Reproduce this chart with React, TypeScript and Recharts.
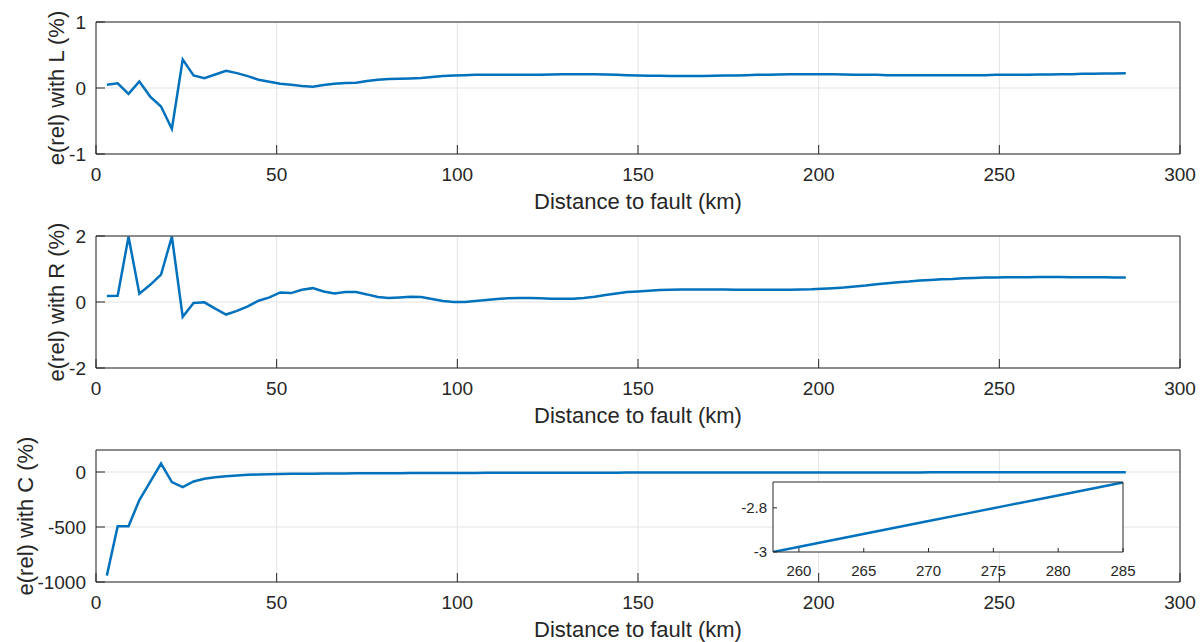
import React from 'react'
import { LineChart, Line, XAxis, YAxis, CartesianGrid } from 'recharts'

// distance to fault (km)
const distance = [
  3, 6, 9, 12, 15, 18, 21, 24, 27, 30,
  33, 36, 39, 42, 45, 48, 51, 54, 57, 60,
  63, 66, 69, 72, 75, 78, 81, 84, 87, 90,
  93, 96, 99, 102, 105, 108, 111, 114, 117, 120,
  123, 126, 129, 132, 135, 138, 141, 144, 147, 150,
  153, 156, 159, 162, 165, 168, 171, 174, 177, 180,
  183, 186, 189, 192, 195, 198, 201, 204, 207, 210,
  213, 216, 219, 222, 225, 228, 231, 234, 237, 240,
  243, 246, 249, 252, 255, 258, 261, 264, 267, 270,
  273, 276, 279, 282, 285
]

// e(rel) with L (%)
const errL = [
  0.05, 0.07, -0.09, 0.1, -0.13, -0.28, -0.62, 0.43, 0.19, 0.15,
  0.205, 0.26, 0.225, 0.18, 0.125, 0.095, 0.065, 0.05, 0.03, 0.02,
  0.045, 0.065, 0.075, 0.08, 0.105, 0.125, 0.135, 0.14, 0.145, 0.15,
  0.165, 0.18, 0.19, 0.195, 0.2, 0.2, 0.2, 0.2, 0.2, 0.2,
  0.2, 0.205, 0.21, 0.21, 0.21, 0.21, 0.205, 0.2, 0.195, 0.19,
  0.185, 0.185, 0.18, 0.18, 0.18, 0.18, 0.185, 0.19, 0.19, 0.195,
  0.2, 0.2, 0.205, 0.21, 0.21, 0.21, 0.21, 0.21, 0.205, 0.2,
  0.2, 0.2, 0.195, 0.195, 0.195, 0.195, 0.195, 0.195, 0.195, 0.195,
  0.195, 0.195, 0.2, 0.2, 0.2, 0.2, 0.205, 0.205, 0.21, 0.21,
  0.215, 0.215, 0.22, 0.22, 0.225
]

// e(rel) with R (%)
const errR = [
  0.18, 0.19, 1.98, 0.25, 0.52, 0.83, 1.98, -0.45, -0.03, -0.01,
  -0.2, -0.38, -0.27, -0.13, 0.04, 0.14, 0.29, 0.27, 0.37, 0.42,
  0.32, 0.26, 0.3, 0.3, 0.23, 0.15, 0.12, 0.14, 0.16, 0.15,
  0.09, 0.03, 0.0, 0.0, 0.03, 0.06, 0.09, 0.11, 0.12, 0.12,
  0.11, 0.1, 0.1, 0.1, 0.12, 0.16, 0.21, 0.26, 0.3, 0.32,
  0.34, 0.36, 0.37, 0.38, 0.38, 0.38, 0.38, 0.38, 0.37, 0.37,
  0.37, 0.37, 0.37, 0.37, 0.38, 0.385, 0.4, 0.42, 0.44, 0.47,
  0.5, 0.54, 0.57, 0.6, 0.62, 0.65, 0.67, 0.69, 0.7, 0.72,
  0.73, 0.74, 0.74, 0.75, 0.75, 0.75, 0.76, 0.76, 0.76, 0.75,
  0.75, 0.75, 0.75, 0.74, 0.74
]

// e(rel) with C (%)
const errC = [
  -942, -494, -494, -255, -90, 77, -92, -138, -86, -61,
  -47, -38, -31, -26, -22.5, -20, -17.8, -16.8, -15.8, -14.9,
  -14.1, -13.4, -12.8, -12.2, -11.7, -11.2, -10.7, -10.3, -9.9, -9.5,
  -9.2, -8.9, -8.6, -8.3, -8.1, -7.8, -7.6, -7.4, -7.2, -7.0,
  -6.8, -6.6, -6.4, -6.3, -6.1, -6.0, -5.8, -5.7, -5.6, -5.4,
  -5.3, -5.2, -5.1, -5.0, -4.9, -4.8, -4.7, -4.6, -4.54, -4.46,
  -4.38, -4.3, -4.22, -4.16, -4.08, -4.01, -3.95, -3.89, -3.82, -3.76,
  -3.7, -3.65, -3.59, -3.54, -3.49, -3.44, -3.39, -3.34, -3.29, -3.25,
  -3.2, -3.16, -3.12, -3.08, -3.04, -3.0, -2.965, -2.93, -2.895, -2.86,
  -2.825, -2.79, -2.755, -2.72, -2.685
]

const xTicks = [0, 50, 100, 150, 200, 250, 300]
const lTicks = [-1, 0, 1]
const rTicks = [-2, 0, 2]
const cTicks = [-1000, -500, 0]
const insetXTicks = [260, 265, 270, 275, 280, 285]
const insetYTicks = [-3, -2.8]

const rows = distance.map((d, i) => ({ d, L: errL[i], R: errR[i], C: errC[i] }))
const insetRows = rows.filter(r => r.d >= 258)

const FONT = '"Liberation Sans", Arial, Helvetica, sans-serif'
const AX = '#262626'
const GRID = '#e3e3e3'
const BLUE = '#0072BD'

const yLabel = (text: string, cx: number) => ({
  content: (p: any) => {
    const vb = p.viewBox
    const cy = vb && vb.height ? vb.y + vb.height / 2 : 88
    return (
      <text
        x={cx}
        y={cy}
        dy="0.35em"
        transform={`rotate(-90 ${cx} ${cy})`}
        textAnchor="middle"
        fontSize={22}
        fill={AX}
        fontFamily={FONT}
      >
        {text}
      </text>
    )
  }
})

interface PanelProps {
  top: number
  dataKey: string
  domain: [number, number]
  ticks: number[]
  label: string
  labelX: number
}

const Panel: React.FC<PanelProps> = ({ top, dataKey, domain, ticks, label, labelX }) => (
  <div style={{ position: 'absolute', left: 0, top }}>
    <LineChart width={1203} height={214} data={rows} margin={{ top: 21, right: 22, bottom: 0, left: 0 }}>
      <CartesianGrid stroke={GRID} />
      <XAxis
        dataKey="d"
        type="number"
        domain={[0, 300]}
        ticks={xTicks}
        allowDataOverflow
        height={60}
        tickSize={-9}
        tickMargin={23}
        stroke={AX}
        tick={{ fill: AX, fontSize: 19, fontFamily: FONT }}
        label={{ value: 'Distance to fault (km)', position: 'insideBottom', offset: 5, fill: AX, fontSize: 22, fontFamily: FONT }}
      />
      <XAxis
        xAxisId="top"
        orientation="top"
        dataKey="d"
        type="number"
        domain={[0, 300]}
        ticks={xTicks}
        allowDataOverflow
        height={1}
        tickSize={-9}
        tick={false}
        stroke={AX}
      />
      <YAxis
        type="number"
        domain={domain}
        ticks={ticks}
        allowDataOverflow
        width={96}
        tickSize={-9}
        tickMargin={19}
        stroke={AX}
        tick={{ fill: AX, fontSize: 19, fontFamily: FONT }}
        label={yLabel(label, labelX)}
      />
      <YAxis
        yAxisId="right"
        orientation="right"
        type="number"
        domain={domain}
        ticks={ticks}
        allowDataOverflow
        width={1}
        tickSize={-9}
        tick={false}
        stroke={AX}
      />
      {/* invisible copy so the top/right frame axes get drawn */}
      <Line xAxisId="top" yAxisId="right" type="linear" dataKey={dataKey} stroke="none" dot={false} isAnimationActive={false} />
      <Line type="linear" dataKey={dataKey} stroke={BLUE} strokeWidth={2.5} dot={false} isAnimationActive={false} />
    </LineChart>
  </div>
)

const Inset: React.FC = () => (
  <div style={{ position: 'absolute', left: 700, top: 470 }}>
    <LineChart width={440} height={110} data={insetRows} margin={{ top: 11, right: 16, bottom: 0, left: 0 }}>
      <CartesianGrid fill="#ffffff" stroke="#ffffff" />
      <XAxis
        dataKey="d"
        type="number"
        domain={[258, 285]}
        ticks={insetXTicks}
        allowDataOverflow
        height={28}
        tickSize={-4}
        tickMargin={17}
        stroke={AX}
        tick={{ fill: AX, fontSize: 15, fontFamily: FONT }}
      />
      <XAxis
        xAxisId="top"
        orientation="top"
        dataKey="d"
        type="number"
        domain={[258, 285]}
        ticks={insetXTicks}
        allowDataOverflow
        height={1}
        tickSize={-4}
        tick={false}
        stroke={AX}
      />
      <YAxis
        type="number"
        domain={[-3, -2.683]}
        ticks={insetYTicks}
        allowDataOverflow
        width={73}
        tickSize={-4}
        tickMargin={10}
        stroke={AX}
        tick={{ fill: AX, fontSize: 15, fontFamily: FONT }}
      />
      <YAxis
        yAxisId="right"
        orientation="right"
        type="number"
        domain={[-3, -2.683]}
        ticks={insetYTicks}
        allowDataOverflow
        width={1}
        tickSize={-4}
        tick={false}
        stroke={AX}
      />
      <Line xAxisId="top" yAxisId="right" type="linear" dataKey="C" stroke="none" dot={false} isAnimationActive={false} />
      <Line type="linear" dataKey="C" stroke={BLUE} strokeWidth={2.5} dot={false} isAnimationActive={false} />
    </LineChart>
  </div>
)

export default function App() {
  return (
    <div style={{ position: 'absolute', left: 0, top: 0, width: 1203, height: 642, background: '#fff', fontFamily: FONT }}>
      <Panel top={0} dataKey="L" domain={[-1, 1]} ticks={lTicks} label="e(rel) with L (%)" labelX={56} />
      <Panel top={214} dataKey="R" domain={[-2, 2]} ticks={rTicks} label="e(rel) with R (%)" labelX={56} />
      <Panel top={428} dataKey="C" domain={[-1000, 200]} ticks={cTicks} label="e(rel) with C (%)" labelX={25} />
      <Inset />
    </div>
  )
}
